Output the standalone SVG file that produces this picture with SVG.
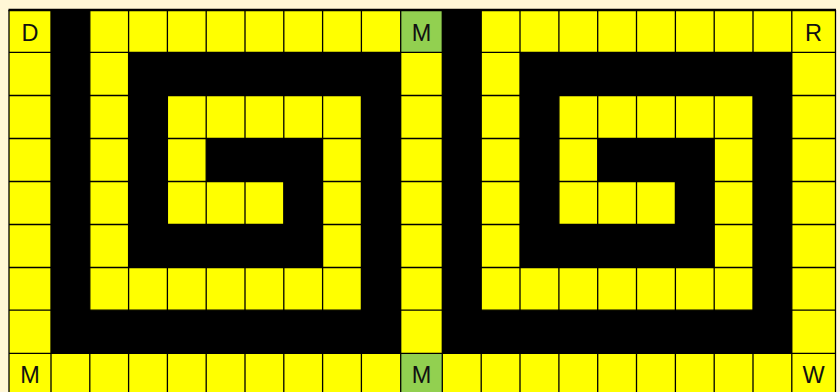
<svg xmlns="http://www.w3.org/2000/svg" width="840" height="392" viewBox="0 0 840 392">
<style>
.bg{fill:#FFF7D6}
.y{fill:#FFFF00}
.g{fill:#92D050}
.b{fill:#000000}
.ln{stroke:#000000;stroke-width:1.3;fill:none}
.t{font-family:"Liberation Sans",Arial,sans-serif;font-size:23.5px;fill:#111111;text-anchor:middle}
</style>
<rect class="bg" x="0" y="0" width="840" height="392"/>
<g id="grid">
<rect class="y" x="9" y="10" width="826.5" height="390"/>
<rect class="g" x="400.7" y="10" width="41.6" height="42.3"/>
<rect class="g" x="400.7" y="353.3" width="41.6" height="45"/>
</g>
<g id="spiral-left">
<rect class="b" x="51" y="10" width="38.8" height="343.3"/>
<rect class="b" x="51" y="310.2" width="349.7" height="43.1"/>
<rect class="b" x="361.4" y="52.3" width="39.3" height="301"/>
<rect class="b" x="128.6" y="52.3" width="272.1" height="43.2"/>
<rect class="b" x="128.6" y="52.3" width="38.8" height="215.2"/>
<rect class="b" x="128.6" y="224.5" width="194" height="43"/>
<rect class="b" x="283.8" y="138.5" width="38.8" height="129"/>
<rect class="b" x="206.2" y="138.5" width="116.4" height="43"/>
</g>
<g id="spiral-right">
<rect class="b" x="442.3" y="10" width="38.9" height="343.3"/>
<rect class="b" x="442.3" y="310.2" width="349.5" height="43.1"/>
<rect class="b" x="753" y="52.3" width="38.8" height="301"/>
<rect class="b" x="520" y="52.3" width="271.8" height="43.2"/>
<rect class="b" x="520" y="52.3" width="38.9" height="215.2"/>
<rect class="b" x="520" y="224.5" width="194.2" height="43"/>
<rect class="b" x="675.4" y="138.5" width="38.8" height="129"/>
<rect class="b" x="597.7" y="138.5" width="116.5" height="43"/>
</g>
<g id="lines">
<path class="ln" d="M9,10V392 M51,10V392 M89.8,10V392 M128.6,10V392 M167.4,10V392 M206.2,10V392 M245,10V392 M283.8,10V392 M322.6,10V392 M361.4,10V392 M400.7,10V392 M442.3,10V392 M481.2,10V392 M520,10V392 M558.9,10V392 M597.7,10V392 M636.5,10V392 M675.4,10V392 M714.2,10V392 M753,10V392 M791.8,10V392 M835.5,10V392"/>
<path class="ln" d="M9,52.3H835.5 M9,95.5H835.5 M9,138.5H835.5 M9,181.5H835.5 M9,224.5H835.5 M9,267.5H835.5 M9,310.2H835.5 M9,353.3H835.5"/>
<path class="ln" style="stroke-width:2.4" d="M8.5,10H836"/>
</g>
<g id="labels">
<text class="t" x="30" y="40.8">D</text>
<text class="t" x="421.5" y="40.8">M</text>
<text class="t" x="813.6" y="40.8">R</text>
<text class="t" x="30" y="383">M</text>
<text class="t" x="421.5" y="383">M</text>
<text class="t" x="813.6" y="383">W</text>
</g>
</svg>
